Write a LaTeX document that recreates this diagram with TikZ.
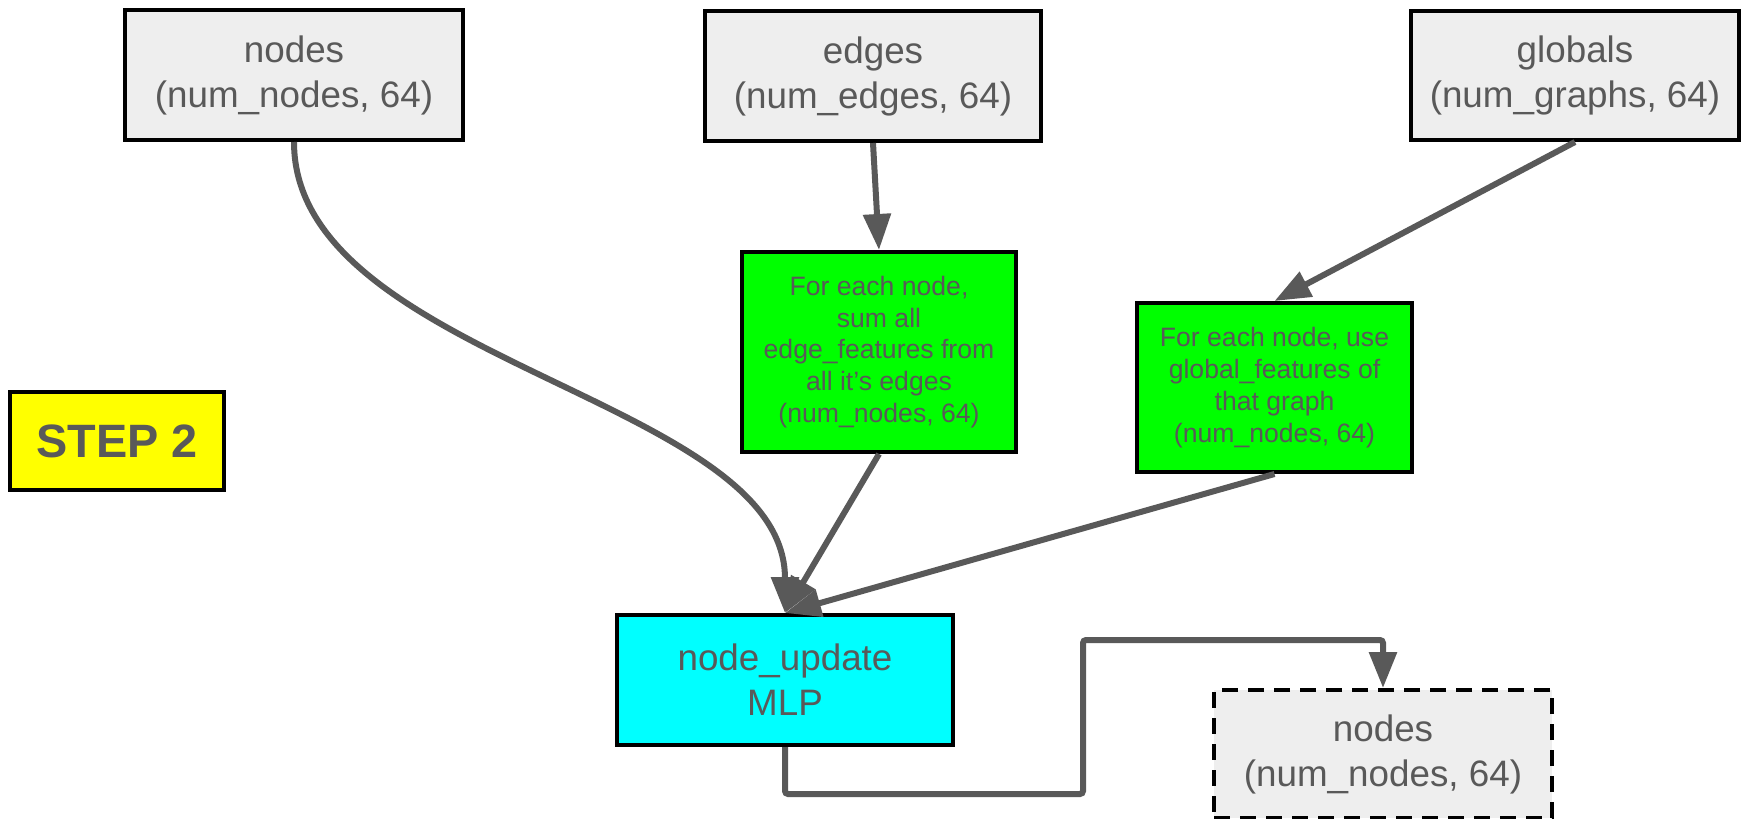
\documentclass[tikz,border=0pt]{standalone}
\usepackage{fontspec}
\setmainfont{Liberation Sans}
\usetikzlibrary{arrows.meta}
\definecolor{txtgray}{HTML}{595959}
\definecolor{boxgray}{HTML}{EEEEEE}
\definecolor{boxgreen}{HTML}{00FF00}
\definecolor{boxcyan}{HTML}{00FFFF}
\definecolor{boxyellow}{HTML}{FFFF00}
\tikzset{
  box/.style={draw=black, line width=2pt, inner sep=0pt, align=center, text=txtgray,
    font=\fontsize{18.4}{22.5}\selectfont},
  graybox/.style={box, fill=boxgray},
  greenbox/.style={box, fill=boxgreen, font=\fontsize{13.3}{15.9}\selectfont},
  cyanbox/.style={box, fill=boxcyan},
  stepbox/.style={box, fill=boxyellow, font=\fontsize{23.4}{28}\selectfont\bfseries},
  conn/.style={draw=txtgray, line width=3pt, -{Triangle[length=18pt,width=13.5pt]}},
}
\begin{document}
\begin{tikzpicture}[x=0.5pt,y=-0.5pt]
\useasboundingbox (0,0) rectangle (1741,819);
\node[graybox, minimum width=169pt, minimum height=65pt] (nodes) at (294,75) {nodes\\(num\_nodes, 64)};
\node[graybox, minimum width=168pt, minimum height=65pt] (edges) at (873,76) {edges\\(num\_edges, 64)};
\node[graybox, minimum width=164pt, minimum height=64.5pt] (globals) at (1575,75.5) {globals\\(num\_graphs, 64)};
\node[greenbox, minimum width=137pt, minimum height=100pt] (sum) at (879,352) {For each node,\\sum all\\edge\_features from\\all it’s edges\\(num\_nodes, 64)};
\node[greenbox, minimum width=137.5pt, minimum height=84.5pt] (glob) at (1274.5,387.5) {For each node, use\\global\_features of\\that graph\\(num\_nodes, 64)};
\node[cyanbox, minimum width=168pt, minimum height=65pt] (nu) at (785,680) {node\_update\\MLP};
\node[graybox, dash pattern=on 8pt off 5pt, minimum width=169pt, minimum height=64pt] (out) at (1383,754) {nodes\\(num\_nodes, 64)};
\node[stepbox, minimum width=107pt, minimum height=49pt] (step) at (117,441) {STEP 2};
\coordinate (o1) at (1083,794);
\coordinate (o2) at (1083,640);
\draw[conn] (nodes.south) .. controls +(0,219) and +(0,-215) .. (nu.north);
\draw[conn] (edges.south) -- (sum.north);
\draw[conn] (globals.south) -- (glob.north);
\draw[conn] (sum.south) -- (nu.north);
\draw[conn] (glob.south) -- (nu.north);
\draw[conn, rounded corners=1.5pt] (nu.south) |- (o1) -- (o2) -| (out.north);
\end{tikzpicture}
\end{document}
